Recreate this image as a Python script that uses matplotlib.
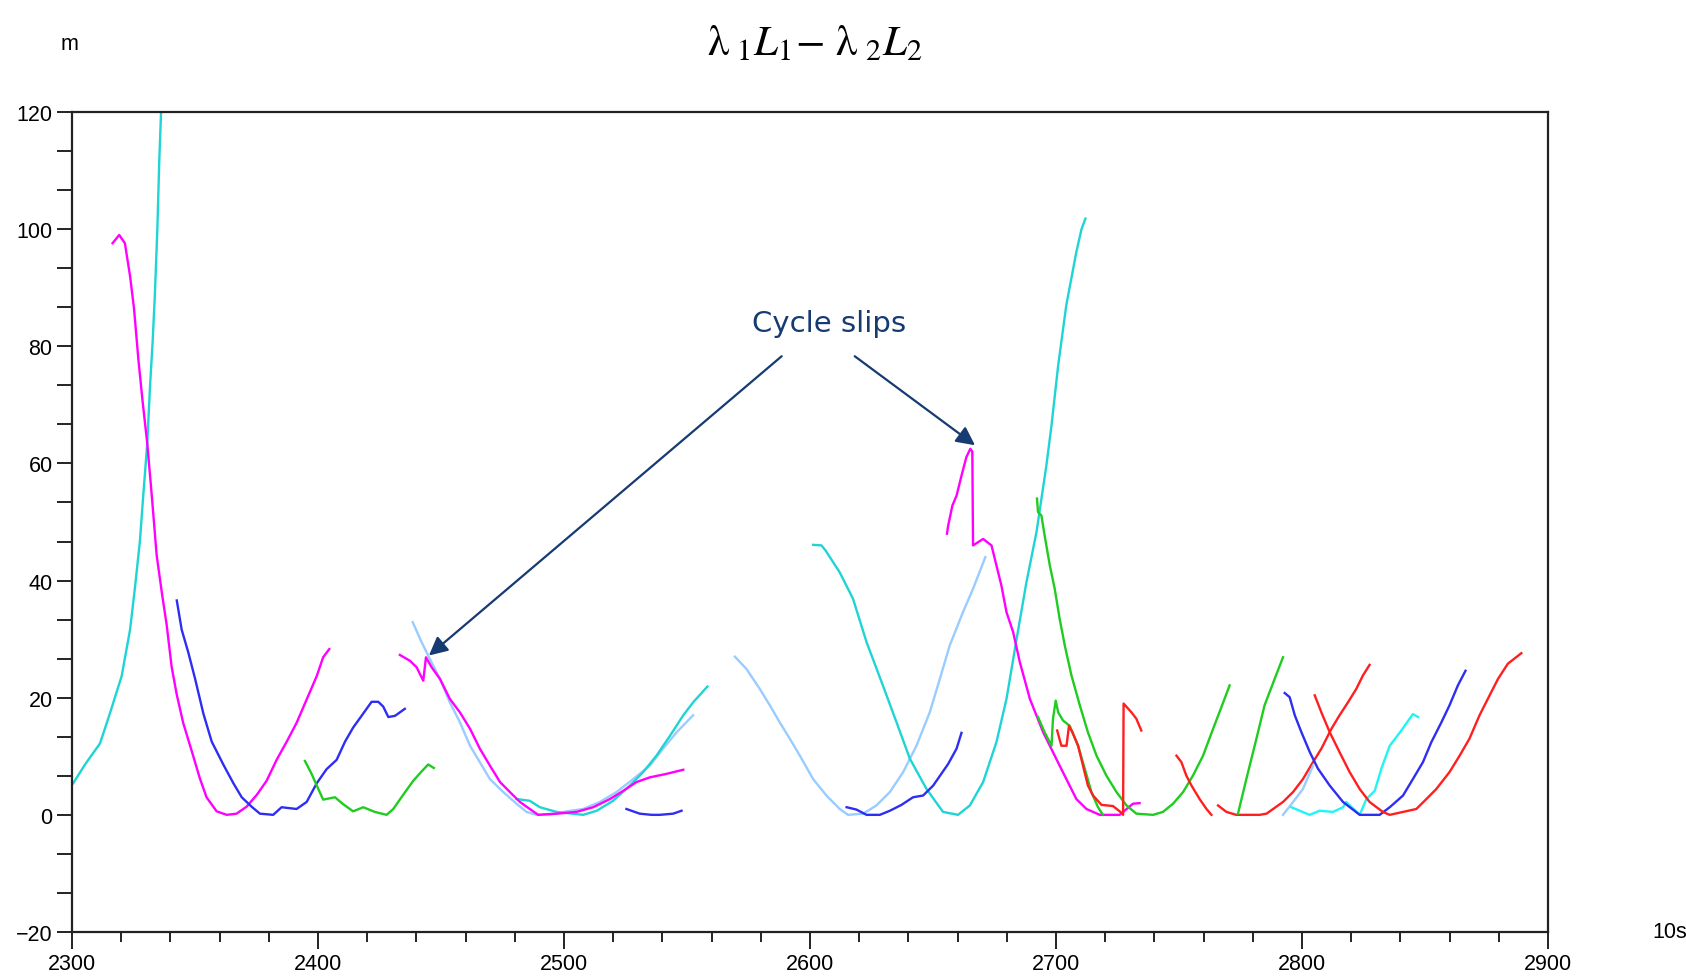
import matplotlib
matplotlib.use("Agg")
import matplotlib.pyplot as plt
from matplotlib.ticker import MultipleLocator, AutoMinorLocator

# epoch (units of 10 s) and lambda1*L1 - lambda2*L2 (m), one pair of lists per arc
turq1_t = [2300.5, 2305.3, 2311.4, 2315.4, 2320.2, 2323.6, 2325.6, 2327.6, 2329, 2330.6, 2331.7, 2332.8, 2333.7, 2334.7, 2335.5, 2336.2]
turq1_y = [5.4, 8.6, 12.2, 17.3, 23.7, 31.6, 38.8, 46.7, 54.7, 63.4, 73, 80.9, 88.9, 100, 111.9, 119.9]

mag1_t = [2316.5, 2319.2, 2321.5, 2323.6, 2325.2, 2327, 2328.7, 2330.6, 2332.4, 2334.4, 2336.5, 2338.5, 2340.5, 2342.6, 2345.2, 2348.6,
          2352, 2354.7, 2358.8, 2362.9, 2366.9, 2371, 2375.1, 2379.1, 2383.2, 2387.3, 2391.3, 2395.4, 2399.5, 2402.1, 2404.6]
mag1_y = [97.6, 99, 97.6, 92, 86.5, 77.7, 70.6, 63.4, 54.7, 44.4, 38, 32.4, 25.3, 20.5, 15.7, 11,
          6.2, 3, 0.6, 0, 0.2, 1.4, 3.4, 5.8, 9.4, 12.5, 15.7, 19.7, 23.7, 26.9, 28.3]

blue1_t = [2342.6, 2344.6, 2347.3, 2350, 2353.4, 2356.8, 2361.5, 2365.6, 2369, 2373, 2376.4, 2381.8, 2385.2, 2391.3,
           2395.4, 2399.5, 2403.5, 2407.6, 2411, 2414.3, 2418.4, 2421.8, 2424.5, 2426.5, 2428.6, 2431.3, 2435.3]
blue1_y = [36.6, 31.6, 27.7, 23.3, 17.3, 12.5, 8.6, 5.4, 3, 1.4, 0.2, 0, 1.3, 1,
           2.2, 5.4, 7.8, 9.4, 12.5, 14.9, 17.3, 19.3, 19.3, 18.5, 16.7, 16.9, 18.1]

green1_t = [2394.7, 2397.4, 2399.5, 2402.1, 2406.9, 2410.3, 2414.3, 2418.4, 2423.1, 2427.9, 2430.6, 2434.6, 2438.7, 2442.1, 2444.8, 2447.1]
green1_y = [9.2, 7, 5, 2.6, 3, 1.8, 0.6, 1.3, 0.5, 0, 1, 3.4, 5.8, 7.4, 8.6, 8]

light1_t = [2438.5, 2442.1, 2445.5, 2449.6, 2453.6, 2457.7, 2461.8, 2465.8, 2469.9, 2475.3, 2480.7, 2484.8,
            2488.9, 2497, 2501.1, 2507.8, 2514.6, 2521.4, 2528.1, 2534.9, 2540.3, 2545.8, 2552.5]
light1_y = [32.9, 29.5, 26.6, 23.2, 19.2, 15.8, 11.8, 9, 6.1, 3.9, 1.9, 0.5,
            0, 0.2, 0.6, 1, 2.2, 3.9, 6.1, 8.4, 11.3, 14.1, 17]

mag2_t = [2433.3, 2437.4, 2440.1, 2442.8, 2443.9, 2446.2, 2449.6, 2453.6, 2457.7, 2461.8, 2465.8, 2469.9, 2474,
          2478, 2482.1, 2486.1, 2489.5, 2497, 2505.1, 2511.9, 2518.7, 2524.1, 2529.5, 2534.9, 2541.7, 2548.5]
mag2_y = [27.3, 26.3, 25.2, 22.9, 26.9, 25.2, 23.2, 19.8, 17.5, 14.7, 11.3, 8.4, 5.6,
          3.9, 2.2, 1, 0, 0.2, 0.5, 1.3, 2.7, 4.1, 5.6, 6.4, 7, 7.7]

turq2_t = [2480.7, 2486.1, 2490.2, 2497, 2507.8, 2513.3, 2520, 2526.8, 2532.2, 2537.6, 2543.1, 2548.5, 2552.5, 2558.3]
turq2_y = [2.7, 2.4, 1.3, 0.5, 0, 0.7, 2.4, 5, 7.3, 10.1, 13.5, 17, 19.2, 21.9]

blue2_t = [2525.4, 2530.8, 2535.6, 2539, 2544.4, 2547.8]
blue2_y = [1, 0.2, 0, 0, 0.2, 0.7]

light2_t = [2569.5, 2574.2, 2579.6, 2583.7, 2587.7, 2591.8, 2595.9, 2601.3, 2606.7, 2612.1, 2615.5,
            2621.6, 2627, 2632.5, 2637.9, 2643.3, 2648.7, 2652.8, 2656.8, 2662.2, 2666.3, 2671.3]
light2_y = [27, 24.9, 21.5, 18.7, 15.8, 13, 10.1, 6.1, 3.3, 1, 0,
            0.2, 1.6, 3.9, 7.3, 11.8, 17.5, 23.2, 28.9, 34.6, 38.6, 44]

turq3_t = [2601.3, 2604.7, 2606.4, 2612.1, 2617.5, 2623, 2629.1, 2635.2, 2640.6, 2647.4, 2654.1, 2660.2, 2665,
           2670.4, 2675.8, 2679.9, 2684, 2688, 2692.1, 2696.1, 2698.2, 2700.9, 2704.2, 2708.3, 2710.4, 2712]
turq3_y = [46.1, 46, 45.1, 41.4, 36.9, 29.5, 22.7, 15.8, 9.6, 4.4, 0.5, 0, 1.6,
           5.6, 12.4, 19.8, 30, 39.7, 48.3, 59.6, 66.5, 76.7, 87, 96.1, 100, 101.8]

blue3_t = [2614.9, 2618.9, 2623, 2628.4, 2632.5, 2637.2, 2641.9, 2646, 2650.1, 2656.2, 2659.6, 2661.6]
blue3_y = [1.3, 0.9, 0, 0, 0.7, 1.7, 3, 3.3, 5, 8.7, 11.3, 14]

mag3_t = [2655.7, 2656.2, 2657.9, 2659.6, 2661.6, 2663.6, 2665.2, 2666, 2666.3, 2670.4, 2673.8, 2675.8, 2677.8,
          2679.9, 2682.6, 2685.3, 2689.4, 2694.8, 2701.5, 2708.3, 2712.4, 2717.8, 2725.9, 2731.3, 2734]
mag3_y = [48, 49.4, 52.8, 54.5, 57.9, 61.1, 62.5, 62, 46, 47.1, 46, 42.6, 39.2,
          34.6, 31.2, 26.1, 19.8, 14.1, 8.4, 2.7, 1, 0, 0, 1.9, 2]

green2_t = [2692.3, 2692.7, 2694.1, 2695.4, 2697.5, 2699.5, 2701.5, 2703.6, 2706.3, 2709.7, 2713, 2716.5, 2720.5,
            2724.6, 2728.7, 2732.7, 2739.5, 2743.5, 2747.6, 2751.7, 2755.7, 2759.8, 2763.9, 2768, 2770.6]
green2_y = [54, 51.7, 51.1, 47.7, 42.6, 38.6, 33.5, 28.9, 23.8, 18.7, 14.1, 10.1, 6.7,
            3.9, 1.6, 0.2, 0, 0.5, 1.9, 3.9, 6.7, 10.1, 14.7, 19.2, 22.1]

green3_t = [2692.7, 2695.4, 2698.2, 2698.8, 2699.9, 2700.9, 2702.9, 2705.6, 2709, 2711.7, 2714.4, 2717.1, 2719.1]
green3_y = [16.7, 14.1, 11.8, 16.4, 19.5, 17.5, 16.1, 15.2, 11.8, 7.9, 3.9, 1.3, 0]

red1_t = [2700.5, 2702.2, 2704.3, 2705.3, 2706.7, 2709, 2711, 2713, 2715.1, 2718.5, 2723.2, 2726.2, 2727.3,
          2727.5, 2730.7, 2732.7, 2734.7]
red1_y = [14.4, 11.8, 11.8, 15.2, 14.1, 11.8, 8.4, 5, 3.3, 1.7, 1.5, 0.5, 0,
          19, 17.5, 16.4, 14.4]

red2_t = [2749, 2751, 2753, 2755.1, 2758.4, 2761.2, 2763.2]
red2_y = [10.1, 9, 6.7, 5, 2.7, 1, 0]

red3_t = [2765.9, 2769.3, 2773.3, 2782.8, 2785.6, 2792.3, 2796.4, 2800.4, 2804.5, 2807.9, 2812, 2815.3,
          2818.7, 2822.1, 2824.8, 2827.5]
red3_y = [1.6, 0.5, 0, 0, 0.2, 2.2, 3.9, 6.1, 9, 11.3, 14.7, 17, 19.2, 21.5, 23.8, 25.6]

green4_t = [2774, 2777.4, 2781.5, 2784.8, 2788.9, 2792.3]
green4_y = [0.2, 6.1, 13, 18.7, 23.2, 26.9]

blue4_t = [2793, 2795, 2797.1, 2799.8, 2803.2, 2806.5, 2811.3, 2816.7, 2823.5, 2831.6, 2835.7, 2841.1,
           2845.1, 2849.2, 2852.6, 2856.7, 2860, 2863.4, 2866.5]
blue4_y = [20.8, 20.1, 17, 14.1, 10.7, 7.9, 5, 2.2, 0, 0, 1.3, 3.3, 6.1, 9, 12.4, 15.8, 18.7, 22.1, 24.6]

red4_t = [2805.2, 2807.9, 2811.3, 2815.3, 2819.4, 2823.5, 2827.5, 2832.9, 2835.7, 2841.1, 2846.5, 2850.6,
          2854.6, 2860, 2864.1, 2868.1, 2872.2, 2876.3, 2879.7, 2883.7, 2889.2]
red4_y = [20.4, 17.5, 14.1, 10.7, 7.3, 4.4, 2.2, 0.5, 0, 0.5, 1, 2.7,
          4.4, 7.3, 10.1, 13, 17, 20.4, 23.2, 25.8, 27.6]

cyan1_t = [2795.7, 2803.1, 2807.2, 2812.6, 2816.7, 2818, 2823.5, 2826.2, 2829.6, 2832.3, 2835.7, 2840.4, 2845.1, 2847.2]
cyan1_y = [1.3, 0, 0.7, 0.5, 1.3, 2.2, 0, 2.7, 4.1, 7.9, 11.8, 14.4, 17.2, 16.7]

light3_t = [2792.3, 2796.4, 2800.4, 2804.5]
light3_y = [0, 2.2, 4.4, 8.4]

# the two slips pointed at: (tail of arrow, head of arrow)
slip_tail = [(2588.5, 78.3), (2618.2, 78.3)]
slip_head = [(2445.1, 27.2), (2667.1, 63.1)]

TURQ = "#1ed4d4"
LIGHT = "#99ccff"
MAG = "#ff00ff"
BLUE = "#2e2ef2"
GREEN = "#1fcc1f"
RED = "#ff1f1f"
CYAN = "#1ff5f5"
NAVY = "#163a72"

arcs = [
    (turq1_t, turq1_y, TURQ), (mag1_t, mag1_y, MAG), (blue1_t, blue1_y, BLUE), (green1_t, green1_y, GREEN),
    (light1_t, light1_y, LIGHT), (turq2_t, turq2_y, TURQ), (mag2_t, mag2_y, MAG), (blue2_t, blue2_y, BLUE),
    (light2_t, light2_y, LIGHT), (turq3_t, turq3_y, TURQ), (blue3_t, blue3_y, BLUE), (mag3_t, mag3_y, MAG),
    (green2_t, green2_y, GREEN), (green3_t, green3_y, GREEN), (red1_t, red1_y, RED), (red2_t, red2_y, RED),
    (red3_t, red3_y, RED), (green4_t, green4_y, GREEN), (light3_t, light3_y, LIGHT), (cyan1_t, cyan1_y, CYAN),
    (blue4_t, blue4_y, BLUE), (red4_t, red4_y, RED),
]

plt.rcParams["font.family"] = ["Liberation Sans", "DejaVu Sans"]
plt.rcParams["mathtext.fontset"] = "stix"

fig = plt.figure(figsize=(16.86, 9.79), dpi=100)
ax = fig.add_axes([0.0427, 0.047, 0.8754, 0.8376])

for t, y, c in arcs:
    ax.plot(t, y, color=c, lw=1.7)

ax.set_xlim(2300, 2900)
ax.set_ylim(-20, 120)
ax.xaxis.set_major_locator(MultipleLocator(100))
ax.xaxis.set_minor_locator(AutoMinorLocator(5))
ax.yaxis.set_major_locator(MultipleLocator(20))
ax.yaxis.set_minor_locator(AutoMinorLocator(3))

for s in ax.spines.values():
    s.set_linewidth(1.6)
    s.set_color("#222222")
ax.tick_params(axis="x", which="major", direction="out", length=12, width=1.4, pad=3, labelsize=15.5, color="#222222")
ax.tick_params(axis="x", which="minor", direction="out", length=7, width=1.4, color="#222222")
ax.tick_params(axis="y", which="both", direction="out", length=11, width=1.4, pad=3, labelsize=15.5, color="#222222")

fig.text(0.0415, 0.955, "m", fontsize=15.5, ha="center", va="center")
fig.text(0.9905, 0.047, "10s", fontsize=15.5, ha="center", va="center")
fig.text(0.483, 0.955, r"$\mathrm{\lambda}_{\ 1}L_{1}\!-\,\mathrm{\lambda}_{\ 2}L_{2}$", fontsize=31,
         ha="center", va="center")

ax.text(2607.7, 83.9, "Cycle slips", fontsize=21, color=NAVY, ha="center", va="center",
        family="DejaVu Sans")
for tail, head in zip(slip_tail, slip_head):
    ax.annotate("", xy=head, xytext=tail,
                arrowprops=dict(arrowstyle="-|>", color=NAVY, lw=1.6, mutation_scale=28,
                                shrinkA=0, shrinkB=0))

fig.savefig("out.png", dpi=100)
